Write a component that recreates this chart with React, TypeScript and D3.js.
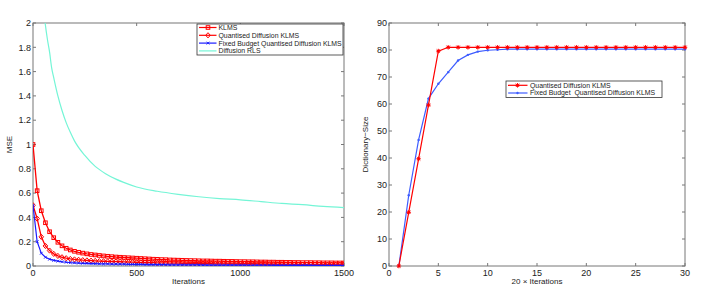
import React from "react";
import * as d3 from "d3";

// ---- left panel data (MSE, a marker every 20 iterations) ----
const iterStep = 20;
const klmsMse = [
  1.0, 0.62, 0.455, 0.356, 0.282, 0.233, 0.195, 0.166, 0.146, 0.132,
  0.121, 0.113, 0.106, 0.1, 0.095, 0.091, 0.087, 0.083, 0.08, 0.077,
  0.074, 0.072, 0.07, 0.068, 0.066, 0.064, 0.062, 0.06, 0.058, 0.056,
  0.055, 0.053, 0.052, 0.05, 0.049, 0.048, 0.047, 0.046, 0.045, 0.044,
  0.043, 0.042, 0.042, 0.041, 0.04, 0.04, 0.039, 0.038, 0.038, 0.037,
  0.036, 0.036, 0.035, 0.035, 0.034, 0.033, 0.033, 0.032, 0.032, 0.031,
  0.031, 0.03, 0.03, 0.029, 0.029, 0.028, 0.028, 0.028, 0.027, 0.027,
  0.026, 0.026, 0.026, 0.025, 0.025, 0.025,
];
const qdMse = [
  0.5, 0.39, 0.24, 0.165, 0.127, 0.1, 0.083, 0.072, 0.064, 0.058,
  0.054, 0.051, 0.048, 0.046, 0.044, 0.042, 0.04, 0.039, 0.038, 0.037,
  0.036, 0.035, 0.034, 0.033, 0.032, 0.031, 0.03, 0.029, 0.028, 0.027,
  0.026, 0.026, 0.025, 0.024, 0.024, 0.023, 0.022, 0.022, 0.021, 0.021,
  0.02, 0.02, 0.019, 0.019, 0.018, 0.018, 0.017, 0.017, 0.017, 0.016,
  0.016, 0.016, 0.015, 0.015, 0.015, 0.014, 0.014, 0.014, 0.014, 0.013,
  0.013, 0.013, 0.013, 0.012, 0.012, 0.012, 0.012, 0.012, 0.011, 0.011,
  0.011, 0.011, 0.011, 0.01, 0.01, 0.01,
];
const fbMse = [
  0.5, 0.2, 0.105, 0.072, 0.056, 0.046, 0.04, 0.035, 0.031, 0.028,
  0.026, 0.024, 0.022, 0.021, 0.02, 0.019, 0.018, 0.017, 0.017, 0.016,
  0.016, 0.015, 0.015, 0.014, 0.014, 0.013, 0.013, 0.012, 0.012, 0.012,
  0.011, 0.011, 0.011, 0.01, 0.01, 0.01, 0.01, 0.009, 0.009, 0.009,
  0.009, 0.008, 0.008, 0.008, 0.008, 0.008, 0.007, 0.007, 0.007, 0.007,
  0.007, 0.007, 0.006, 0.006, 0.006, 0.006, 0.006, 0.006, 0.005, 0.005,
  0.005, 0.005, 0.005, 0.005, 0.005, 0.005, 0.005, 0.005, 0.004, 0.004,
  0.004, 0.004, 0.004, 0.004, 0.004, 0.004,
];
const rlsIter = [40, 50, 60, 70, 80, 90, 100, 120, 140, 160, 180, 200, 250, 300, 350, 400, 450, 500, 600, 700, 800, 900, 1000, 1100, 1200, 1300, 1400, 1500];
const rlsMse = [2.4, 2.15, 1.98, 1.86, 1.76, 1.63, 1.55, 1.4, 1.28, 1.18, 1.1, 1.03, 0.91, 0.82, 0.76, 0.715, 0.68, 0.65, 0.615, 0.59, 0.57, 0.555, 0.545, 0.53, 0.515, 0.505, 0.49, 0.48];
const leftXTicks = [0, 500, 1000, 1500];
const leftYTicks = [0, 0.2, 0.4, 0.6, 0.8, 1, 1.2, 1.4, 1.6, 1.8, 2];
const leftLegend = ["KLMS", "Quantised Diffusion KLMS", "Fixed Budget Quantised Diffusion KLMS", "Diffusion RLS"];

// ---- right panel data (dictionary size) ----
const dictStep = [1, 2, 3, 4, 5, 6, 7, 8, 9, 10, 11, 12, 13, 14, 15, 16, 17, 18, 19, 20, 21, 22, 23, 24, 25, 26, 27, 28, 29, 30];
const qdDict = [0, 19.9, 39.7, 59.6, 79.6, 81, 81, 81, 81, 81, 81, 81, 81, 81, 81, 81, 81, 81, 81, 81, 81, 81, 81, 81, 81, 81, 81, 81, 81, 81];
const fbDict = [0, 26.2, 46.7, 62, 67.5, 71.8, 76.1, 78.2, 79.4, 79.9, 80.1, 80.3, 80.3, 80.3, 80.3, 80.3, 80.3, 80.3, 80.3, 80.3, 80.3, 80.3, 80.3, 80.3, 80.3, 80.3, 80.3, 80.3, 80.3, 80.3];
const rightXTicks = [0, 5, 10, 15, 20, 25, 30];
const rightYTicks = [0, 10, 20, 30, 40, 50, 60, 70, 80, 90];
const rightLegend = ["Quantised Diffusion KLMS", "Fixed Budget  Quantised Diffusion KLMS"];

const RED = "#ff0000";
const BLUE = "#1a1aff";
const BLUE2 = "#3d5cff";
const CYAN = "#74f5d6";
const AXIS = "#777";
const FONT = "Liberation Sans, Arial, sans-serif";

const Square = ({ x, y }) => <rect x={x - 1.8} y={y - 1.8} width={3.6} height={3.6} fill="none" stroke={RED} strokeWidth={1} />;
const Diamond = ({ x, y }) => <path d={`M${x},${y - 2.6}L${x + 2.3},${y}L${x},${y + 2.6}L${x - 2.3},${y}Z`} fill="none" stroke={RED} strokeWidth={1} />;
const Cross = ({ x, y }) => <path d={`M${x - 1.4},${y - 1.4}L${x + 1.4},${y + 1.4}M${x - 1.4},${y + 1.4}L${x + 1.4},${y - 1.4}`} stroke={BLUE} strokeWidth={0.9} />;
const Star = ({ x, y }) => (
  <g>
    <path d={`M${x - 2.3},${y}L${x + 2.3},${y}M${x},${y - 2.3}L${x},${y + 2.3}M${x - 1.7},${y - 1.7}L${x + 1.7},${y + 1.7}M${x - 1.7},${y + 1.7}L${x + 1.7},${y - 1.7}`} stroke={RED} strokeWidth={0.9} />
    <circle cx={x} cy={y} r={1.3} fill={RED} />
  </g>
);
const Dot = ({ x, y }) => <circle cx={x} cy={y} r={1.2} fill={BLUE2} />;

const Frame = ({ x0, x1, y0, y1, xScale, yScale, xTicks, yTicks, yFmt, xLabel, yLabel, id }) => (
  <g fontFamily={FONT} fill="#222">
    <rect x={x0} y={y0} width={x1 - x0} height={y1 - y0} fill="none" stroke={AXIS} strokeWidth={1} />
    {xTicks.map((t) => (
      <g key={"x" + t}>
        <line x1={xScale(t)} x2={xScale(t)} y1={y1} y2={y1 - 3} stroke={AXIS} />
        <line x1={xScale(t)} x2={xScale(t)} y1={y0} y2={y0 + 3} stroke={AXIS} />
        <text x={xScale(t)} y={y1 + 9.5} fontSize={9} textAnchor="middle">{t}</text>
      </g>
    ))}
    {yTicks.map((t) => (
      <g key={"y" + t}>
        <line x1={x0} x2={x0 + 3} y1={yScale(t)} y2={yScale(t)} stroke={AXIS} />
        <line x1={x1} x2={x1 - 3} y1={yScale(t)} y2={yScale(t)} stroke={AXIS} />
        <text x={x0 - 2} y={yScale(t) + 3.2} fontSize={9} textAnchor="end">{yFmt(t)}</text>
      </g>
    ))}
    <text x={(x0 + x1) / 2} y={y1 + 18} fontSize={8} textAnchor="middle">{xLabel}</text>
    <text transform={`translate(${x0 - 21},${(y0 + y1) / 2}) rotate(-90)`} fontSize={8} textAnchor="middle">{yLabel}</text>
    <clipPath id={id}><rect x={x0} y={y0} width={x1 - x0} height={y1 - y0} /></clipPath>
  </g>
);

export default function App() {
  const W = 706, H = 300;

  // left panel
  const L = { x0: 33, x1: 344, y0: 23, y1: 266 };
  const lx = d3.scaleLinear().domain([0, 1500]).range([L.x0, L.x1]);
  const ly = d3.scaleLinear().domain([0, 2]).range([L.y1, L.y0]);
  const lineL = d3.line<number>().x((_, i) => lx(i * iterStep)).y((d) => ly(d));
  const rlsLine = d3.line<number>().x((_, i) => lx(rlsIter[i])).y((d) => ly(d)).curve(d3.curveMonotoneX);

  // right panel
  const R = { x0: 389, x1: 685, y0: 23, y1: 266 };
  const rx = d3.scaleLinear().domain([0, 30]).range([R.x0, R.x1]);
  const ry = d3.scaleLinear().domain([0, 90]).range([R.y1, R.y0]);
  const lineR = d3.line<number>().x((_, i) => rx(dictStep[i])).y((d) => ry(d));

  const legL = { x: 197, y: 24, w: 146, h: 31 };
  const legR = { x: 506, y: 81, w: 156, h: 16.5 };

  return (
    <svg width={W} height={H} style={{ position: "absolute", left: 0, top: 0, background: "#fff" }}>
      <rect width={W} height={H} fill="#fff" />
      <Frame {...L} xScale={lx} yScale={ly} xTicks={leftXTicks} yTicks={leftYTicks} yFmt={(t) => String(+t.toFixed(1))} xLabel="Iterations" yLabel="MSE" id="clipL" />
      <g clipPath="url(#clipL)">
        <path d={rlsLine(rlsMse) || ""} fill="none" stroke={CYAN} strokeWidth={1.2} />
        <path d={lineL(klmsMse) || ""} fill="none" stroke={RED} strokeWidth={1.3} />
        {klmsMse.map((d, i) => <Square key={i} x={lx(i * iterStep)} y={ly(d)} />)}
        <path d={lineL(qdMse) || ""} fill="none" stroke={RED} strokeWidth={1.3} />
        {qdMse.map((d, i) => <Diamond key={i} x={lx(i * iterStep)} y={ly(d)} />)}
        <path d={lineL(fbMse) || ""} fill="none" stroke={BLUE} strokeWidth={1.2} />
        {fbMse.map((d, i) => <Cross key={i} x={lx(i * iterStep)} y={ly(d)} />)}
      </g>
      <g fontFamily={FONT}>
        <rect x={legL.x} y={legL.y} width={legL.w} height={legL.h} fill="#fff" stroke="#333" strokeWidth={0.8} />
        {leftLegend.map((name, i) => {
          const y = 27.5 + i * 7.8;
          const col = i < 2 ? RED : i === 2 ? BLUE : CYAN;
          return (
            <g key={name}>
              <line x1={199} x2={216.5} y1={y} y2={y} stroke={col} strokeWidth={1.2} />
              {i === 0 && <Square x={208} y={y} />}
              {i === 1 && <Diamond x={208} y={y} />}
              {i === 2 && <Cross x={208} y={y} />}
              <text x={218.5} y={y + 2.4} fontSize={6.9} fill="#222">{name}</text>
            </g>
          );
        })}
      </g>

      <Frame {...R} xScale={rx} yScale={ry} xTicks={rightXTicks} yTicks={rightYTicks} yFmt={(t) => String(t)} xLabel="20 × Iterations" yLabel="Dictionary−Size" id="clipR" />
      <g>
        <path d={lineR(fbDict) || ""} fill="none" stroke={BLUE2} strokeWidth={1.2} />
        {fbDict.map((d, i) => <Dot key={i} x={rx(dictStep[i])} y={ry(d)} />)}
        <path d={lineR(qdDict) || ""} fill="none" stroke={RED} strokeWidth={1.2} />
        {qdDict.map((d, i) => <Star key={i} x={rx(dictStep[i])} y={ry(d)} />)}
      </g>
      <g fontFamily={FONT}>
        <rect x={legR.x} y={legR.y} width={legR.w} height={legR.h} fill="#fff" stroke="#333" strokeWidth={0.8} />
        {rightLegend.map((name, i) => {
          const y = 85.3 + i * 7.7;
          return (
            <g key={name}>
              <line x1={508} x2={527.5} y1={y} y2={y} stroke={i === 0 ? RED : BLUE2} strokeWidth={1.2} />
              {i === 0 ? <Star x={517.5} y={y} /> : <Dot x={517.5} y={y} />}
              <text x={530} y={y + 2.4} fontSize={6.9} fill="#222" style={{ whiteSpace: "pre" }}>{name}</text>
            </g>
          );
        })}
      </g>
    </svg>
  );
}
